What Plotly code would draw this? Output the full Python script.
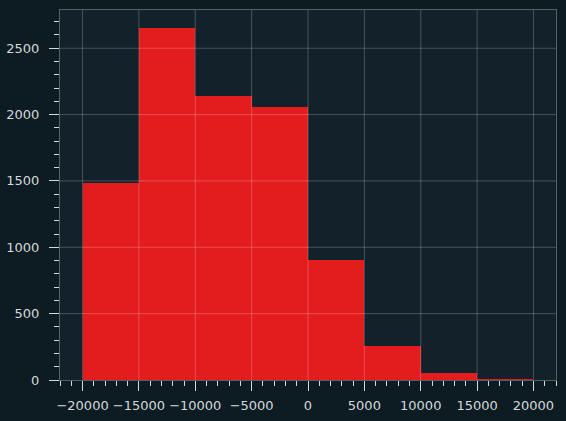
import plotly.graph_objects as go

# histogram bins (edges) and counts
bin_edges = [-20000, -15000, -10000, -5000, 0, 5000, 10000, 15000, 20000]
counts = [1485, 2652, 2140, 2057, 903, 256, 53, 6]

x_ticks = [-20000, -15000, -10000, -5000, 0, 5000, 10000, 15000, 20000]
y_ticks = [0, 500, 1000, 1500, 2000, 2500]

centers = [(a + b) / 2 for a, b in zip(bin_edges[:-1], bin_edges[1:])]
widths = [b - a for a, b in zip(bin_edges[:-1], bin_edges[1:])]

text_color = '#d3d9dc'
grid_color = 'rgba(255,255,255,0.22)'

fig = go.Figure()
fig.add_trace(go.Bar(
    x=centers,
    y=counts,
    width=widths,
    marker=dict(color='#e31c1e', line=dict(width=0)),
    hoverinfo='x+y',
))

axis_common = dict(
    showgrid=False,
    zeroline=False,
    showline=True,
    linecolor='rgba(255,255,255,0.3)',
    linewidth=1,
    mirror=True,
    ticks='outside',
    ticklen=10,
    tickcolor=text_color,
    tickfont=dict(family='DejaVu Sans', size=13, color=text_color),
    tickangle=0,
    automargin=False,
    layer='above traces',
)

fig.update_xaxes(
    range=[-22000, 22000],
    tickvals=x_ticks,
    tickformat='d',
    ticklabelstandoff=3,
    minor=dict(dtick=1000, ticks='outside', ticklen=5, tickcolor=text_color, showgrid=False),
    **axis_common,
)
fig.update_yaxes(
    range=[0, 2788],
    tickvals=y_ticks,
    ticklabelstandoff=7,
    minor=dict(dtick=100, ticks='outside', ticklen=5, tickcolor=text_color, showgrid=False),
    **axis_common,
)

# grid drawn on top of the bars, like the original
for xv in x_ticks:
    fig.add_vline(x=xv, line=dict(color=grid_color, width=1), layer='above')
for yv in y_ticks[1:]:
    fig.add_hline(y=yv, line=dict(color=grid_color, width=1), layer='above')

fig.update_layout(
    width=566,
    height=421,
    margin=dict(l=60, r=10, t=10, b=41),
    paper_bgcolor='#0d1b22',
    plot_bgcolor='#13222a',
    showlegend=False,
    bargap=0,
)

# drop the browser's default page margin so the figure fills the window
fig.write_html(
    "out.html",
    config={'displayModeBar': False},
    post_script="document.body.style.margin='0';document.body.style.overflow='hidden';",
)
